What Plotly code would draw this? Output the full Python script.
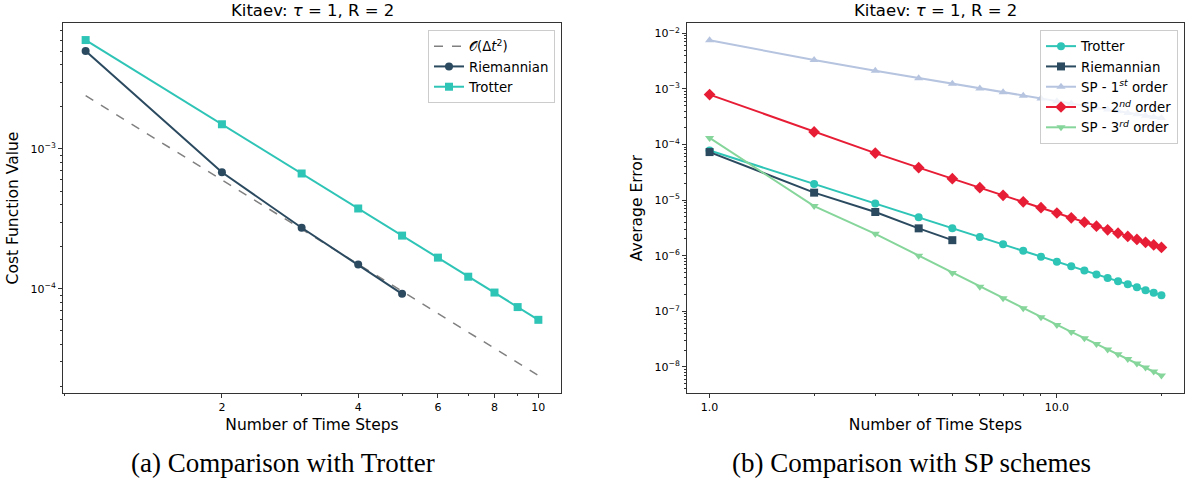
import plotly.graph_objects as go

# ---- data: cost function vs. number of time steps (panel a) ----
steps_a_trot = [1, 2, 3, 4, 5, 6, 7, 8, 9, 10]
cost_trotter = [6.0e-3, 1.5e-3, 6.67e-4, 3.75e-4, 2.4e-4, 1.67e-4, 1.22e-4, 9.4e-5, 7.4e-5, 6.0e-5]
steps_a_riem = [1, 2, 3, 4, 5]
cost_riemannian = [5.0e-3, 6.8e-4, 2.73e-4, 1.49e-4, 9.2e-5]
ref_steps = [1, 10]
ref_dt2 = [2.4e-3, 2.4e-5]

# ---- data: average error vs. number of time steps (panel b) ----
steps_b = list(range(1, 21))
err_trotter = [7.8e-5, 1.95e-5, 8.7e-6, 4.9e-6, 3.1e-6, 2.17e-6, 1.6e-6, 1.22e-6, 9.6e-7, 7.8e-7,
               6.45e-7, 5.4e-7, 4.6e-7, 3.98e-7, 3.47e-7, 3.05e-7, 2.7e-7, 2.4e-7, 2.16e-7, 1.95e-7]
steps_b_riem = [1, 2, 3, 4, 5]
err_riemannian = [7.3e-5, 1.36e-5, 6.1e-6, 3.1e-6, 1.9e-6]
err_sp1 = [7.5e-3, 3.3e-3, 2.12e-3, 1.56e-3, 1.24e-3, 1.02e-3, 8.7e-4, 7.5e-4, 6.7e-4, 6.0e-4,
           5.45e-4, 4.98e-4, 4.58e-4, 4.25e-4, 3.96e-4, 3.7e-4, 3.48e-4, 3.28e-4, 3.11e-4, 2.98e-4]
err_sp2 = [7.9e-4, 1.68e-4, 7.0e-5, 3.83e-5, 2.43e-5, 1.67e-5, 1.22e-5, 9.3e-6, 7.3e-6, 5.85e-6,
           4.8e-6, 4.0e-6, 3.4e-6, 2.92e-6, 2.54e-6, 2.22e-6, 1.96e-6, 1.74e-6, 1.56e-6, 1.41e-6]
err_sp3 = [1.31e-4, 7.8e-6, 2.47e-6, 1.0e-6, 4.9e-7, 2.77e-7, 1.71e-7, 1.13e-7, 7.8e-8, 5.66e-8,
           4.25e-8, 3.28e-8, 2.58e-8, 2.06e-8, 1.68e-8, 1.38e-8, 1.15e-8, 9.7e-9, 8.25e-9, 7.0e-9]

# ---- tick labels ----
ticks_x_a = [2, 4, 6, 8, 10]
ticks_y_a = [1e-4, 1e-3]
ticktext_y_a = ["10<sup>−4</sup>", "10<sup>−3</sup>"]
ticks_x_b = [1, 10]
ticktext_x_b = ["1.0", "10.0"]
ticks_y_b = [1e-8, 1e-7, 1e-6, 1e-5, 1e-4, 1e-3, 1e-2]
ticktext_y_b = ["10<sup>−8</sup>", "10<sup>−7</sup>", "10<sup>−6</sup>", "10<sup>−5</sup>",
                "10<sup>−4</sup>", "10<sup>−3</sup>", "10<sup>−2</sup>"]

TEAL = "#2ec4b6"
NAVY = "#2b4a60"
LAVENDER = "#b6c4e0"
RED = "#e71d36"
GREEN = "#86d69b"
FONT = "DejaVu Sans"


def log_minors(lo_exp, hi_exp):
    return [m * 10.0 ** e for e in range(lo_exp, hi_exp) for m in range(2, 10)]


fig = go.Figure()

# panel (a)
fig.add_trace(go.Scatter(x=ref_steps, y=ref_dt2, mode="lines", name="𝒪(Δ<i>t</i><sup>2</sup>)",
                         line=dict(color="#808080", width=1.5, dash="dash"),
                         xaxis="x", yaxis="y", legend="legend"))
fig.add_trace(go.Scatter(x=steps_a_riem, y=cost_riemannian, mode="lines+markers", name="Riemannian",
                         line=dict(color=NAVY, width=2), marker=dict(symbol="circle", size=8, color=NAVY),
                         xaxis="x", yaxis="y", legend="legend"))
fig.add_trace(go.Scatter(x=steps_a_trot, y=cost_trotter, mode="lines+markers", name="Trotter",
                         line=dict(color=TEAL, width=2), marker=dict(symbol="square", size=8, color=TEAL),
                         xaxis="x", yaxis="y", legend="legend"))

# panel (b)
fig.add_trace(go.Scatter(x=steps_b, y=err_trotter, mode="lines+markers", name="Trotter",
                         line=dict(color=TEAL, width=2), marker=dict(symbol="circle", size=8, color=TEAL),
                         xaxis="x2", yaxis="y2", legend="legend2"))
fig.add_trace(go.Scatter(x=steps_b_riem, y=err_riemannian, mode="lines+markers", name="Riemannian",
                         line=dict(color=NAVY, width=2), marker=dict(symbol="square", size=8, color=NAVY),
                         xaxis="x2", yaxis="y2", legend="legend2"))
fig.add_trace(go.Scatter(x=steps_b, y=err_sp1, mode="lines+markers", name="SP - 1<sup><i>st</i></sup> order",
                         line=dict(color=LAVENDER, width=2), marker=dict(symbol="triangle-up", size=8, color=LAVENDER),
                         xaxis="x2", yaxis="y2", legend="legend2"))
fig.add_trace(go.Scatter(x=steps_b, y=err_sp2, mode="lines+markers", name="SP - 2<sup><i>nd</i></sup> order",
                         line=dict(color=RED, width=2), marker=dict(symbol="diamond", size=9, color=RED),
                         xaxis="x2", yaxis="y2", legend="legend2"))
fig.add_trace(go.Scatter(x=steps_b, y=err_sp3, mode="lines+markers", name="SP - 3<sup><i>rd</i></sup> order",
                         line=dict(color=GREEN, width=2), marker=dict(symbol="triangle-down", size=8, color=GREEN),
                         xaxis="x2", yaxis="y2", legend="legend2"))

W, H = 1186, 484
y_dom = [1 - 393 / H, 1 - 23 / H]

axis_common = dict(type="log", showgrid=False, zeroline=False, showline=True, mirror=True,
                   linecolor="#333333", linewidth=1, ticks="outside", ticklen=4, tickwidth=1,
                   tickcolor="#333333", tickfont=dict(family=FONT, size=11, color="#000000"))
minor_common = dict(ticks="outside", ticklen=2, tickwidth=0.8, tickcolor="#333333")
title_font = dict(family=FONT, size=15.5, color="#000000")

legend_common = dict(bgcolor="rgba(255,255,255,0.8)", bordercolor="#cccccc", borderwidth=1,
                     font=dict(family=FONT, size=13.3, color="#000000"),
                     xanchor="right", yanchor="top", tracegroupgap=0, itemwidth=30)

fig.update_layout(
    width=W, height=H,
    margin=dict(l=0, r=0, t=0, b=0),
    paper_bgcolor="white", plot_bgcolor="white",
    font=dict(family=FONT, color="#000000"),
    xaxis=dict(axis_common, domain=[63 / W, 561 / W], range=[-0.05, 1.05], anchor="y",
               tickvals=ticks_x_a, ticktext=[str(v) for v in ticks_x_a],
               minor=dict(minor_common, tickvals=[0.9, 3, 5, 7, 9]),
               title=dict(text="Number of Time Steps", font=title_font, standoff=5)),
    yaxis=dict(axis_common, domain=y_dom, range=[-4.745, -2.10], anchor="x",
               tickvals=ticks_y_a, ticktext=ticktext_y_a,
               minor=dict(minor_common, tickvals=log_minors(-5, -2)),
               title=dict(text="Cost Function Value", font=title_font, standoff=8)),
    xaxis2=dict(axis_common, domain=[687 / W, 1184 / W], range=[-0.065, 1.366], anchor="y2",
                tickvals=ticks_x_b, ticktext=ticktext_x_b,
                minor=dict(minor_common, tickvals=[2, 3, 4, 5, 6, 7, 8, 9, 20]),
                title=dict(text="Number of Time Steps", font=title_font, standoff=5)),
    yaxis2=dict(axis_common, domain=y_dom, range=[-8.47, -1.815], anchor="x2",
                tickvals=ticks_y_b, ticktext=ticktext_y_b,
                minor=dict(minor_common, tickvals=log_minors(-9, -1)),
                title=dict(text="Average Error", font=title_font, standoff=8)),
    legend=dict(legend_common, x=555 / W, y=1 - 30 / H),
    legend2=dict(legend_common, x=1178 / W, y=1 - 30 / H),
)

# panel titles and captions
for xc in (312 / W, 935.5 / W):
    fig.add_annotation(text="Kitaev: <i>τ</i> = 1, R = 2", x=xc, y=1 - 11 / H, xref="paper", yref="paper",
                       showarrow=False, xanchor="center", yanchor="middle",
                       font=dict(family=FONT, size=16.5, color="#000000"))
for xc, caption in ((283 / W, "(a) Comparison with Trotter"), (912 / W, "(b) Comparison with SP schemes")):
    fig.add_annotation(text=caption, x=xc, y=1 - 463 / H, xref="paper", yref="paper",
                       showarrow=False, xanchor="center", yanchor="middle",
                       font=dict(family="Liberation Serif", size=27, color="#000000"))

fig.write_html("out.html")
